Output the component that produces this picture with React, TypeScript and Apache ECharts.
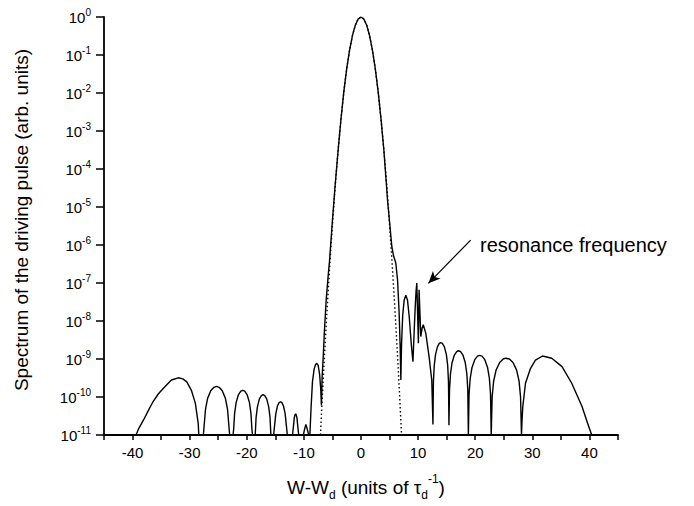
import { useEffect, useRef } from 'react';
import * as echarts from 'echarts';

const FONT = 'Liberation Sans, Arial, Helvetica, sans-serif';

// Tick labels
const xLabelValues = [-40, -30, -20, -10, 0, 10, 20, 30, 40];
const yDecadeExponents = [0, -1, -2, -3, -4, -5, -6, -7, -8, -9, -10, -11];

// Solid curve: side lobes left of the main peak  [W-Wd, spectrum]
const leftLobes: number[][] = [
  [-39.4, 1e-11], [-38.9, 1.5e-11], [-38.1, 2.45e-11], [-37.2, 4.5e-11], [-36.4, 7.6e-11],
  [-35.5, 1.2e-10], [-34.6, 1.7e-10], [-33.2, 2.8e-10], [-32.0, 3.2e-10], [-31.2, 3.0e-10],
  [-30.5, 2.5e-10], [-29.7, 1.5e-10], [-29.0, 6.8e-11], [-28.5, 2.0e-11], [-28.4, 1e-11],
  [-27.6, 1e-11], [-27.46, 1.8e-11], [-27.23, 4.7e-11], [-26.86, 9.2e-11], [-26.31, 1.46e-10],
  [-25.76, 1.8e-10], [-25.3, 1.9e-10], [-24.84, 1.8e-10], [-24.29, 1.46e-10], [-23.74, 9.2e-11],
  [-23.37, 4.7e-11], [-23.14, 1.8e-11], [-23.0, 1e-11],
  [-22.4, 1e-11], [-22.3, 1.41e-11], [-22.13, 3.7e-11], [-21.86, 7.2e-11], [-21.45, 1.16e-10],
  [-21.04, 1.43e-10], [-20.7, 1.5e-10], [-20.36, 1.43e-10], [-19.95, 1.16e-10], [-19.54, 7.2e-11],
  [-19.27, 3.7e-11], [-19.1, 1.41e-11], [-19.0, 1e-11],
  [-18.6, 1e-11], [-18.51, 1.08e-11], [-18.37, 2.9e-11], [-18.14, 5.5e-11], [-17.79, 8.9e-11],
  [-17.44, 1.09e-10], [-17.15, 1.15e-10], [-16.86, 1.09e-10], [-16.51, 8.9e-11], [-16.16, 5.5e-11],
  [-15.93, 2.9e-11], [-15.79, 1.08e-11], [-15.7, 1e-11],
  [-15.3, 1e-11], [-15.11, 1.9e-11], [-14.92, 3.6e-11], [-14.63, 5.8e-11], [-14.34, 7.1e-11],
  [-14.1, 7.5e-11], [-13.86, 7.1e-11], [-13.57, 5.8e-11], [-13.28, 3.6e-11], [-13.09, 1.9e-11],
  [-12.9, 1e-11],
  [-12.0, 1e-11], [-11.82, 1.74e-11], [-11.69, 2.8e-11], [-11.56, 3.4e-11], [-11.45, 3.6e-11],
  [-11.34, 3.4e-11], [-11.21, 2.8e-11], [-11.08, 1.74e-11], [-10.9, 1e-11],
  [-10.1, 1e-11], [-9.86, 1.46e-11], [-9.65, 1.9e-11], [-9.43, 1.46e-11], [-9.15, 1e-11],
  [-8.95, 1e-11], [-8.75, 5e-11], [-8.5, 2.5e-10], [-8.2, 5.5e-10], [-7.95, 7.2e-10],
  [-7.75, 7.7e-10], [-7.5, 6.8e-10], [-7.25, 4e-10], [-7.05, 1.6e-10], [-6.93, 6e-11],
];

// Solid curve: main peak
const mainPeak: number[][] = [
  [-6.8, 3.5e-10], [-6.6, 1.3e-9], [-6.4, 5.7e-9], [-6.1, 3.5e-8], [-5.8, 1.26e-7],
  [-5.5, 4e-7], [-5.0, 4.5e-6], [-4.5, 4.2e-5], [-4.0, 3.2e-4], [-3.5, 2.1e-3],
  [-3.0, 0.011], [-2.5, 0.0436], [-2.0, 0.134], [-1.5, 0.323], [-1.0, 0.605],
  [-0.5, 0.882], [0, 1], [0.5, 0.882], [1.0, 0.605], [1.5, 0.323],
  [2.0, 0.134], [2.5, 0.0436], [3.0, 0.011], [3.5, 2.1e-3], [4.0, 3.2e-4],
  [4.65, 1.5e-5], [5.0, 4.1e-6], [5.4, 9e-7], [5.7, 5.2e-7], [6.1, 3.3e-7],
  [6.4, 1.2e-7], [6.68, 1.6e-8], [6.86, 2.1e-9], [6.98, 2.8e-10],
];

// Solid curve: around the resonance frequency
const resonanceRegion: number[][] = [
  [7.1, 2.5e-9], [7.3, 1.4e-8], [7.55, 3.5e-8], [7.85, 4.8e-8], [8.15, 3.5e-8],
  [8.45, 1.26e-8], [8.8, 2.5e-9], [9.1, 8.5e-10], [9.3, 5e-9], [9.5, 2.5e-8],
  [9.65, 6.3e-8], [9.77, 1e-7], [10.05, 2.6e-9], [10.17, 6.6e-8], [10.47, 3.9e-9],
  [10.7, 6.5e-9], [10.9, 8e-9], [11.34, 4.8e-9], [11.92, 1.15e-9], [12.39, 2.8e-10],
  [12.6, 1.9e-11],
];

// Solid curve: side lobes right of the resonance
const rightLobes: number[][] = [
  [12.68, 2.5e-10], [12.82, 6.7e-10], [13.05, 1.3e-9], [13.38, 2.08e-9], [13.7, 2.57e-9],
  [13.95, 2.7e-9], [14.25, 2.57e-9], [14.6, 2.08e-9], [14.95, 1.3e-9], [15.18, 6.7e-10],
  [15.32, 2.5e-10], [15.4, 1.8e-11],
  [15.5, 1.55e-10], [15.67, 4.1e-10], [15.94, 7.95e-10], [16.35, 1.27e-9], [16.76, 1.57e-9],
  [17.05, 1.65e-9], [17.44, 1.57e-9], [17.85, 1.27e-9], [18.26, 7.95e-10], [18.53, 4.1e-10],
  [18.7, 1.55e-10], [18.8, 1e-11],
  [18.92, 1.18e-10], [19.12, 3.1e-10], [19.44, 6.0e-10], [19.92, 9.6e-10], [20.4, 1.19e-9],
  [20.75, 1.25e-9], [21.2, 1.19e-9], [21.68, 9.6e-10], [22.16, 6.0e-10], [22.48, 3.1e-10],
  [22.68, 1.18e-10], [22.8, 1e-11],
  [22.96, 9.9e-11], [23.22, 2.6e-10], [23.65, 5.1e-10], [24.28, 8.1e-10], [24.9, 1.0e-9],
  [25.35, 1.05e-9], [25.98, 1.0e-9], [26.62, 8.1e-10], [27.25, 5.1e-10], [27.68, 2.6e-10],
  [27.94, 9.9e-11], [28.1, 1e-11],
  [28.2, 2.5e-11], [28.33, 5.6e-11], [28.8, 2.3e-10], [29.67, 5.6e-10], [30.54, 9.3e-10],
  [31.8, 1.2e-9], [33.4, 1.05e-9], [35.2, 6.3e-10], [36.9, 2.3e-10], [38.7, 5.6e-11],
  [39.6, 2.2e-11], [40.4, 1e-11],
];

// Dotted reference spectrum (untruncated pulse)
const referenceSpectrum: number[][] = [
  [-7.1, 1e-11], [-6.8, 8.3e-11], [-6.5, 6.2e-10], [-6.0, 1.4e-8], [-5.5, 2.5e-7],
  [-5.0, 3.5e-6], [-4.5, 3.9e-5], [-4.0, 3.2e-4], [-3.5, 2.1e-3], [-3.0, 0.011],
  [-2.5, 0.0436], [-2.0, 0.134], [-1.5, 0.323], [-1.0, 0.605], [-0.5, 0.882],
  [0, 1], [0.5, 0.882], [1.0, 0.605], [1.5, 0.323], [2.0, 0.134],
  [2.5, 0.0436], [3.0, 0.011], [3.5, 2.1e-3], [4.0, 3.2e-4], [4.5, 3.9e-5],
  [5.0, 3.5e-6], [5.5, 2.5e-7], [6.0, 1.4e-8], [6.5, 6.2e-10], [6.8, 8.3e-11],
  [7.1, 1e-11],
];

// Annotation (data coordinates)
const arrowFrom = [19.2, 1.35e-6];
const arrowTo = [11.8, 9.8e-8];
const annotationAt = [20.65, 1e-6];
const annotationText = 'resonance frequency';
const yTitle = 'Spectrum of the driving pulse (arb. units)';
const xTitle = 'W-W{sub|d} (units of τ{sub|d}{sup|-1})';

const SUP: Record<string, string> = {
  '0': '⁰', '1': '¹', '2': '²', '3': '³', '4': '⁴', '5': '⁵',
  '6': '⁶', '7': '⁷', '8': '⁸', '9': '⁹', '-': '⁻',
};

const expOf = (v: number) => Math.round(Math.log10(v));

function buildOption(level: number): any {
  const font = level >= 5 ? undefined : FONT;
  const axisW = level >= 1 ? 2 : 1.8;
  const tickW = level >= 1 ? 2 : 1.5;

  const richFormatter = (v: number) => {
    const e = expOf(v);
    return yDecadeExponents.includes(e) ? `10{sup|${e}}` : '';
  };
  let yAxisLabel: any;
  if (level === 0) {
    yAxisLabel = {
      margin: 13, fontSize: 15, lineHeight: 20, color: '#000', fontFamily: font,
      formatter: richFormatter,
      rich: { sup: { fontSize: 10, lineHeight: 10, verticalAlign: 'top', color: '#000', fontFamily: font } },
    };
  } else if (level < 4) {
    yAxisLabel = {
      margin: 13, fontSize: 15, color: '#000', fontFamily: font,
      formatter: richFormatter,
      rich: { sup: { fontSize: 10, verticalAlign: 'top', color: '#000', fontFamily: font } },
    };
  } else {
    yAxisLabel = {
      margin: 13, fontSize: 15, color: '#000', fontFamily: font,
      formatter: (v: number) => {
        const e = expOf(v);
        return yDecadeExponents.includes(e) ? '10' + String(e).split('').map((c) => SUP[c] || c).join('') : '';
      },
    };
  }

  const titleRich = {
    sub: { fontSize: 12, lineHeight: 12, verticalAlign: 'bottom', fontFamily: font, fill: '#000', color: '#000' },
    sup: { fontSize: 12, lineHeight: 12, verticalAlign: 'top', fontFamily: font, fill: '#000', color: '#000' },
  };

  const useGraphic = level <= 1;

  const xAxis: any = {
    type: 'value', min: -45, max: 45, interval: 5,
    axisLine: { show: true, onZero: false, lineStyle: { color: '#000', width: axisW } },
    axisTick: { show: true, length: 5, lineStyle: { color: '#000', width: 1.5 } },
    axisLabel: {
      margin: 10, fontSize: 15, color: '#000', fontFamily: font,
      formatter: (v: number) => (xLabelValues.includes(v) ? String(v) : ''),
    },
    splitLine: { show: false },
  };
  const yAxis: any = {
    type: 'log', min: 1e-11, max: 1, interval: 1, position: 'left',
    axisLine: { show: true, onZero: false, lineStyle: { color: '#000', width: axisW } },
    axisTick: { show: true, length: 8, lineStyle: { color: '#000', width: tickW } },
    axisLabel: yAxisLabel,
    splitLine: { show: false },
  };
  if (!useGraphic) {
    yAxis.name = yTitle;
    yAxis.nameLocation = 'middle';
    yAxis.nameRotate = 90;
    yAxis.nameGap = 71;
    yAxis.nameTextStyle = { fontSize: 19, color: '#000', fontFamily: font };
    xAxis.name = xTitle;
    xAxis.nameLocation = 'middle';
    xAxis.nameGap = 38;
    xAxis.nameTextStyle = { fontSize: 19, lineHeight: 28, color: '#000', fontFamily: font, rich: titleRich };
  }

  const solidSeries: any = {
    type: 'line',
    data: [...leftLobes, ...mainPeak, ...resonanceRegion, ...rightLobes],
    symbol: 'none', clip: true, z: 3, silent: true,
    lineStyle: { color: '#000', width: 1.4 },
  };
  if (level <= 2) {
    solidSeries.markLine = {
      silent: true, symbol: ['none', 'arrow'], symbolSize: [8, 12], label: { show: false },
      lineStyle: { color: '#000', width: 1.2, type: 'solid' },
      data: [[{ coord: arrowFrom }, { coord: arrowTo }]],
    };
  }

  const series: any[] = [
    {
      type: 'line', data: referenceSpectrum, symbol: 'none', clip: true, z: 2, silent: true,
      lineStyle: { color: '#000', width: 1.4, type: [1.5, 2.5] },
    },
    solidSeries,
  ];
  if (level >= 3) {
    series.push({
      type: 'lines', coordinateSystem: 'cartesian2d', silent: true, z: 4,
      symbol: ['none', 'arrow'], symbolSize: 10,
      lineStyle: { color: '#000', width: 1.2, opacity: 1 },
      data: [{ coords: [arrowFrom, arrowTo] }],
    });
  }
  if (!useGraphic) {
    series.push({
      type: 'scatter', silent: true, z: 4, symbolSize: 0.1,
      itemStyle: { color: 'rgba(0,0,0,0)' },
      data: [annotationAt],
      label: {
        show: true, position: 'right', distance: 0, formatter: annotationText,
        fontSize: 20, color: '#000', fontFamily: font,
      },
    });
  }

  const graphic = useGraphic
    ? [
        {
          type: 'text', x: 21, y: 220, rotation: Math.PI / 2,
          style: { text: yTitle, fontSize: 19, fontFamily: font, fill: '#000', align: 'center', verticalAlign: 'middle' },
        },
        {
          type: 'text', x: 366, y: 487,
          style: {
            text: xTitle, fontSize: 19, lineHeight: 28, fontFamily: font, fill: '#000',
            align: 'center', verticalAlign: 'middle', rich: titleRich,
          },
        },
        {
          type: 'text', x: 480, y: 245,
          style: { text: annotationText, fontSize: 20, fontFamily: font, fill: '#000', align: 'left', verticalAlign: 'middle' },
        },
      ]
    : [];

  return {
    animation: false,
    grid: { left: 104, right: 76, top: 17, bottom: 71 },
    xAxis,
    yAxis,
    series,
    graphic,
  };
}

// Checks that the y-axis line is really painted (rasterises the chart's SVG)
function yAxisPainted(container: HTMLDivElement | null): Promise<boolean> {
  return new Promise((resolve) => {
    try {
      const svg = container && container.querySelector('svg');
      if (!svg) return resolve(true);
      const s = new XMLSerializer().serializeToString(svg);
      const img = new Image();
      img.onload = () => {
        try {
          const c = document.createElement('canvas');
          c.width = 694;
          c.height = 506;
          const ctx = c.getContext('2d');
          if (!ctx) return resolve(true);
          ctx.fillStyle = '#fff';
          ctx.fillRect(0, 0, 694, 506);
          ctx.drawImage(img, 0, 0, 694, 506);
          const d = ctx.getImageData(100, 100, 8, 300).data;
          let dark = 0;
          for (let i = 0; i < d.length; i += 4) if (d[i] < 128) dark++;
          resolve(dark > 150);
        } catch (e) {
          resolve(true);
        }
      };
      img.onerror = () => resolve(true);
      img.src = 'data:image/svg+xml;charset=utf-8,' + encodeURIComponent(s);
    } catch (e) {
      resolve(true);
    }
  });
}

export default function App() {
  const ref = useRef<HTMLDivElement>(null);

  useEffect(() => {
    if (!ref.current) return;
    let cancelled = false;
    const chart = echarts.init(ref.current, undefined, { renderer: 'svg' });
    chart.setOption(buildOption(0), true);
    (async () => {
      for (let level = 0; level <= 5; level++) {
        if (cancelled) return;
        if (level > 0) chart.setOption(buildOption(level), true);
        await new Promise((r) => setTimeout(r, 20));
        if (cancelled) return;
        const ok = await yAxisPainted(ref.current);
        if (ok || cancelled) return;
      }
    })();
    return () => {
      cancelled = true;
      chart.dispose();
    };
  }, []);

  return (
    <div
      ref={ref}
      style={{ position: 'fixed', left: 0, top: 0, width: 694, height: 506, background: '#fff' }}
    />
  );
}
